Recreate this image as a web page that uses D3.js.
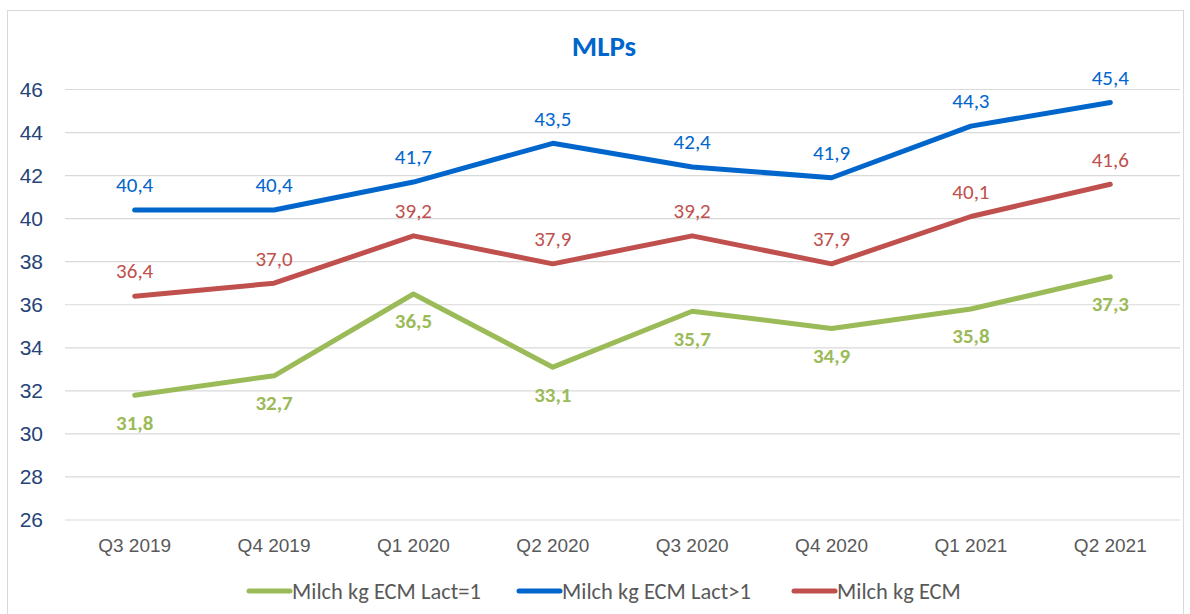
<!DOCTYPE html>
<html>
<head>
<meta charset="utf-8">
<script src="https://cdn.jsdelivr.net/npm/d3@7"></script>
<style>
  body { margin: 0; background: #fff; }
  svg { font-family: Carlito, Lato, "Open Sans", sans-serif; }
</style>
</head>
<body>
<div id="chart"></div>
<script>
const quarters = ["Q3 2019", "Q4 2019", "Q1 2020", "Q2 2020", "Q3 2020", "Q4 2020", "Q1 2021", "Q2 2021"];
const lact1 = [31.8, 32.7, 36.5, 33.1, 35.7, 34.9, 35.8, 37.3];
const lactGt1 = [40.4, 40.4, 41.7, 43.5, 42.4, 41.9, 44.3, 45.4];
const ecm = [36.4, 37.0, 39.2, 37.9, 39.2, 37.9, 40.1, 41.6];
const yTicks = [26, 28, 30, 32, 34, 36, 38, 40, 42, 44, 46];

const series = [
  { name: "Milch kg ECM Lact=1", values: lact1, color: "#9BBB59", below: true },
  { name: "Milch kg ECM Lact>1", values: lactGt1, color: "#0066CC", below: false },
  { name: "Milch kg ECM", values: ecm, color: "#C0504D", below: false }
];

const width = 1190, height = 614;
const plotLeft = 65, plotRight = 1180, plotTop = 89.5, plotBottom = 520;

const svg = d3.select("#chart").append("svg")
  .attr("width", width)
  .attr("height", height);

// chart frame
svg.append("rect")
  .attr("x", 7.5).attr("y", 10.5)
  .attr("width", 1176).attr("height", 610)
  .attr("fill", "none")
  .attr("stroke", "#D9D9D9");

const x = d3.scaleBand().domain(quarters).range([plotLeft, plotRight]).padding(0);
const y = d3.scaleLinear().domain([26, 46]).range([plotBottom, plotTop]);

// gridlines
svg.append("g")
  .selectAll("line")
  .data(yTicks)
  .join("line")
  .attr("x1", plotLeft).attr("x2", plotRight)
  .attr("y1", d => y(d)).attr("y2", d => y(d))
  .attr("stroke", "#D9D9D9")
  .attr("stroke-width", 1.2);

// y axis labels
const yAxis = svg.append("g")
  .attr("transform", `translate(${plotLeft - 22},0)`)
  .call(d3.axisLeft(y).tickValues(yTicks).tickSize(0).tickPadding(0));
yAxis.select(".domain").remove();
yAxis.selectAll("text")
  .attr("fill", "#264478")
  .style("font-size", "21px");

// x axis labels
const xAxis = svg.append("g")
  .attr("transform", `translate(0,${plotBottom + 18})`)
  .call(d3.axisBottom(x).tickSize(0).tickPadding(0));
xAxis.select(".domain").remove();
xAxis.selectAll("text")
  .attr("fill", "#595959")
  .attr("dy", "0.71em")
  .style("font-size", "19px");

// title
svg.append("text")
  .attr("x", 604).attr("y", 56)
  .attr("text-anchor", "middle")
  .attr("fill", "#0066CC")
  .style("font-size", "29px")
  .style("font-weight", "bold")
  .text("MLPs");

const cx = d => x(d) + x.bandwidth() / 2;
const line = d3.line()
  .x((d, i) => cx(quarters[i]))
  .y(d => y(d));

series.forEach(s => {
  svg.append("path")
    .datum(s.values)
    .attr("fill", "none")
    .attr("stroke", s.color)
    .attr("stroke-width", 5)
    .attr("stroke-linejoin", "round")
    .attr("stroke-linecap", "round")
    .attr("d", line);

  svg.append("g")
    .selectAll("text")
    .data(s.values)
    .join("text")
    .attr("x", (d, i) => cx(quarters[i]))
    .attr("y", d => y(d) + (s.below ? 27 : -25))
    .attr("dy", "0.35em")
    .attr("text-anchor", "middle")
    .attr("fill", s.color)
    .style("font-size", "21px")
    .style("font-weight", s.below ? "bold" : "normal")
    .text(d => d.toFixed(1).replace(".", ","));
});

// legend
const legendItems = [
  { s: series[0], x: 249 },
  { s: series[1], x: 519 },
  { s: series[2], x: 794 }
];
const lg = svg.append("g").attr("transform", "translate(0,591)");
legendItems.forEach(item => {
  lg.append("line")
    .attr("x1", item.x).attr("x2", item.x + 41)
    .attr("y1", 0).attr("y2", 0)
    .attr("stroke", item.s.color)
    .attr("stroke-width", 5)
    .attr("stroke-linecap", "round");
  lg.append("text")
    .attr("x", item.x + 43)
    .attr("y", 0)
    .attr("dy", "0.35em")
    .attr("fill", "#595959")
    .style("font-size", "22.5px")
    .text(item.s.name);
});
</script>
</body>
</html>
